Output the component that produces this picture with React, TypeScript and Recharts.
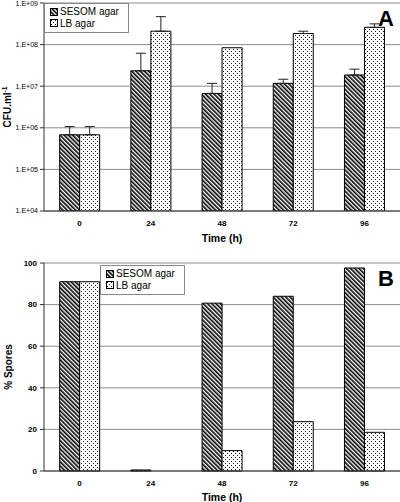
import React from 'react';
import { Bar, BarChart, CartesianGrid, ErrorBar, Label, Legend, XAxis, YAxis } from 'recharts';

const times = ['0', '24', '48', '72', '96'];

// panel A: CFU per ml (log scale), error bars only upward
const sesomCfu = [6.8e5, 2.35e7, 6.7e6, 1.17e7, 1.86e7];
const sesomCfuErr = [3.9e5, 3.85e7, 5.0e6, 3.0e6, 7.1e6];
const lbCfu = [6.8e5, 2.1e8, 8.4e7, 1.85e8, 2.6e8];
const lbCfuErr = [3.9e5, 2.6e8, 0, 2.5e7, 5.5e7];
const cfuTicks = [1e4, 1e5, 1e6, 1e7, 1e8, 1e9];

// panel B: % spores
const sesomSpores = [91, 0.5, 80.7, 84, 97.6];
const lbSpores = [91, 0, 9.8, 23.7, 18.6];
const sporeTicks = [0, 20, 40, 60, 80, 100];

const seriesNames = ['SESOM agar', 'LB agar'];

const cfuData = times.map((t, i) => ({
  time: t,
  sesom: sesomCfu[i],
  lb: lbCfu[i],
  sesomErr: [0, sesomCfuErr[i]],
  lbErr: lbCfuErr[i] ? [0, lbCfuErr[i]] : null,
}));

const sporeData = times.map((t, i) => ({
  time: t,
  sesom: sesomSpores[i],
  lb: lbSpores[i],
}));

const FONT = '"Liberation Sans", Arial, sans-serif';
const GRID = '#8c8c8c';
const AXIS = '#333';

const fmtSci = (v: number) => '1.E+' + String(Math.round(Math.log10(v))).padStart(2, '0');

function Patterns({ prefix }: { prefix: string }) {
  return (
    <defs>
      <pattern id={prefix + 'hatch'} width="3" height="3" patternUnits="userSpaceOnUse" patternTransform="rotate(-45)">
        <rect width="3" height="3" fill="#fff" />
        <rect width="1.6" height="3" fill="#000" />
      </pattern>
      <pattern id={prefix + 'dots'} width="4" height="4" patternUnits="userSpaceOnUse">
        <rect width="4" height="4" fill="#fff" />
        <rect x="1" y="1" width="1" height="1" fill="#111" />
        <rect x="3" y="3" width="1" height="1" fill="#111" />
      </pattern>
    </defs>
  );
}

function LegendBox({ prefix }: { prefix: string }) {
  const fills = ['hatch', 'dots'];
  return (
    <div
      style={{
        border: '1px solid #888',
        background: '#fff',
        padding: '2px 9px 3px 5px',
        fontFamily: FONT,
        fontSize: 10,
        lineHeight: '11.5px',
        color: '#000',
      }}
    >
      {seriesNames.map((name, i) => (
        <div key={name} style={{ display: 'flex', alignItems: 'center', gap: 2 }}>
          <svg width="8" height="8">
            <rect x="0.5" y="0.5" width="7" height="7" fill={`url(#${prefix}${fills[i]})`} stroke="#000" />
          </svg>
          <span>{name}</span>
        </div>
      ))}
    </div>
  );
}

const cfuLabel = (props: any) => {
  const vb = props.viewBox;
  const cx = vb.x + 11;
  const cy = vb.y + vb.height / 2;
  return (
    <text
      x={cx}
      y={cy}
      transform={`rotate(-90 ${cx} ${cy})`}
      textAnchor="middle"
      fontFamily={FONT}
      fontSize={10}
      fontWeight="bold"
      fill="#000"
    >
      CFU.ml
      <tspan dy={-4} fontSize={6.5}>
        -1
      </tspan>
    </text>
  );
};

const panelLetter = (ch: string, top: number) => (
  <div
    style={{
      position: 'absolute',
      left: 378,
      top,
      fontFamily: FONT,
      fontWeight: 'bold',
      fontSize: 22,
      lineHeight: '22px',
      color: '#000',
    }}
  >
    {ch}
  </div>
);

export default function App() {
  return (
    <div style={{ position: 'absolute', left: 0, top: 0, width: 400, height: 502, background: '#fff' }}>
      <BarChart
        width={400}
        height={250}
        data={cfuData}
        margin={{ top: 3, right: 0, left: 0, bottom: 0 }}
        barCategoryGap="22%"
        barGap={0}
      >
        <Patterns prefix="a" />
        <CartesianGrid vertical={false} stroke={GRID} />
        <XAxis
          dataKey="time"
          stroke={AXIS}
          height={39}
          tickLine={false}
          tickSize={5}
          tickMargin={4}
          tick={{ fontSize: 8, fontWeight: 'bold', fill: '#000', fontFamily: FONT }}
        >
          <Label
            value="Time (h)"
            position="insideBottom"
            offset={8}
            style={{ fontSize: 10.5, fontWeight: 'bold', fill: '#000', fontFamily: FONT }}
          />
        </XAxis>
        <XAxis xAxisId="top" orientation="top" height={0} tick={false} tickLine={false} stroke={AXIS} />
        <YAxis
          scale="log"
          domain={[1e4, 1e9]}
          ticks={cfuTicks}
          allowDataOverflow
          width={44}
          stroke={AXIS}
          tickSize={4}
          tickMargin={2}
          tickFormatter={fmtSci}
          tick={{ fontSize: 7, fill: '#000', fontFamily: FONT }}
        >
          <Label content={cfuLabel} position="insideLeft" />
        </YAxis>
        <Legend
          layout="vertical"
          align="center"
          verticalAlign="middle"
          wrapperStyle={{ left: 44, top: 3, width: 'auto', height: 'auto' }}
          content={() => <LegendBox prefix="a" />}
        />
        <Bar dataKey="sesom" name={seriesNames[0]} fill="url(#ahatch)" stroke="#000" strokeWidth={1} isAnimationActive={false}>
          <ErrorBar dataKey="sesomErr" direction="y" width={5} stroke="#222" strokeWidth={1} />
        </Bar>
        <Bar dataKey="lb" name={seriesNames[1]} fill="url(#adots)" stroke="#000" strokeWidth={1} isAnimationActive={false}>
          <ErrorBar dataKey="lbErr" direction="y" width={5} stroke="#222" strokeWidth={1} />
        </Bar>
      </BarChart>

      <BarChart
        width={400}
        height={252}
        data={sporeData}
        margin={{ top: 13, right: 0, left: 0, bottom: 0 }}
        barCategoryGap="22%"
        barGap={0}
      >
        <Patterns prefix="b" />
        <CartesianGrid vertical={false} stroke={GRID} />
        <XAxis
          dataKey="time"
          stroke={AXIS}
          height={31}
          tickLine={false}
          tickSize={5}
          tickMargin={4}
          tick={{ fontSize: 8, fontWeight: 'bold', fill: '#000', fontFamily: FONT }}
        >
          <Label
            value="Time (h)"
            position="insideBottom"
            offset={1}
            style={{ fontSize: 10.5, fontWeight: 'bold', fill: '#000', fontFamily: FONT }}
          />
        </XAxis>
        <XAxis xAxisId="top" orientation="top" height={0} tick={false} tickLine={false} stroke={AXIS} />
        <YAxis
          domain={[0, 100]}
          ticks={sporeTicks}
          width={44}
          stroke={AXIS}
          tickSize={4}
          tickMargin={3}
          tick={{ fontSize: 8, fontWeight: 'bold', fill: '#000', fontFamily: FONT }}
        >
          <Label
            value="% Spores"
            angle={-90}
            position="insideLeft"
            offset={8}
            style={{ textAnchor: 'middle', fontSize: 10, fontWeight: 'bold', fill: '#000', fontFamily: FONT }}
          />
        </YAxis>
        <Legend
          layout="vertical"
          align="center"
          verticalAlign="middle"
          wrapperStyle={{ left: 100, top: 15, width: 'auto', height: 'auto' }}
          content={() => <LegendBox prefix="b" />}
        />
        <Bar dataKey="sesom" name={seriesNames[0]} fill="url(#bhatch)" stroke="#000" strokeWidth={1} isAnimationActive={false} />
        <Bar dataKey="lb" name={seriesNames[1]} fill="url(#bdots)" stroke="#000" strokeWidth={1} isAnimationActive={false} />
      </BarChart>

      {panelLetter('A', 8)}
      {panelLetter('B', 268)}
    </div>
  );
}
